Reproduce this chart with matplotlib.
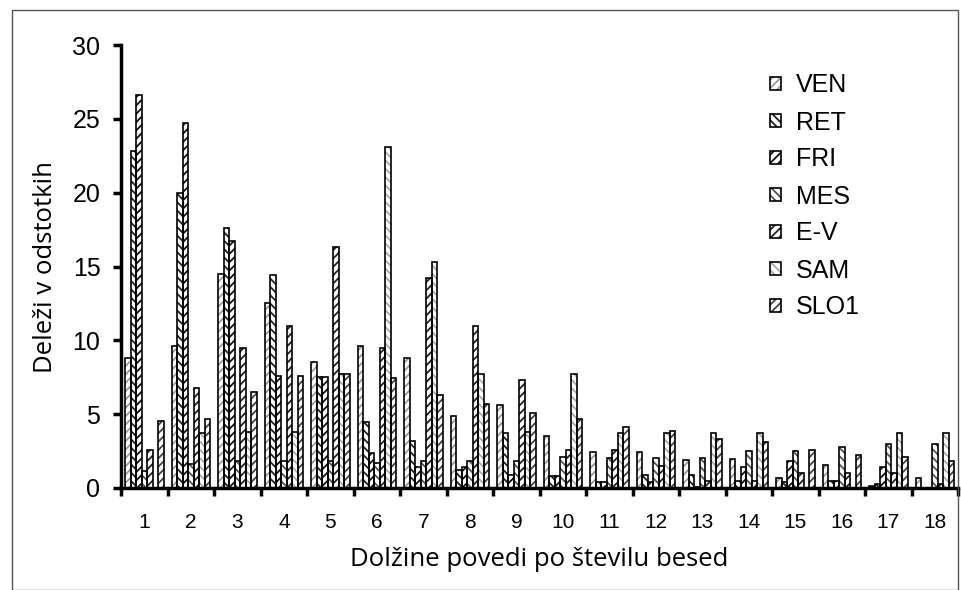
import numpy as np
import matplotlib.pyplot as plt
from matplotlib.patches import Patch, Rectangle

# ── data ───────────────────────────────────────────────────────────────────────
categories = [str(i) for i in range(1, 19)]
series_names = ["VEN", "RET", "FRI", "MES", "E-V", "SAM", "SLO1"]

ven  = [8.8, 9.6, 14.5, 12.5, 8.5, 9.6, 8.8, 4.85, 5.65, 3.55, 2.45, 2.45, 1.9, 1.95, 0.7, 1.55, 0.15, 0.7]
ret  = [22.8, 19.95, 17.6, 14.4, 7.5, 4.5, 3.2, 1.25, 3.75, 0.8, 0.4, 0.9, 0.9, 0.5, 0.4, 0.5, 0.3, 0.0]
fri  = [26.6, 24.7, 16.7, 7.6, 7.55, 2.4, 1.4, 1.4, 0.9, 0.8, 0.4, 0.4, 0.1, 1.4, 1.8, 0.5, 1.4, 0.0]
mes  = [1.15, 1.6, 1.8, 1.85, 1.8, 1.7, 1.8, 1.85, 1.8, 2.1, 2.05, 2.05, 2.05, 2.5, 2.5, 2.8, 3.0, 3.0]
e_v  = [2.6, 6.8, 9.5, 11.0, 16.3, 9.45, 14.2, 11.0, 7.3, 2.6, 2.6, 1.5, 0.5, 0.5, 1.0, 1.0, 1.0, 0.3]
sam  = [0.0, 3.75, 3.8, 3.8, 7.7, 23.1, 15.3, 7.7, 3.8, 7.7, 3.7, 3.7, 3.7, 3.7, 0.0, 0.0, 3.7, 3.7]
slo1 = [4.55, 4.65, 6.5, 7.6, 7.7, 7.45, 6.3, 5.7, 5.1, 4.65, 4.1, 3.85, 3.3, 3.1, 2.6, 2.25, 2.1, 1.8]

series = [ven, ret, fri, mes, e_v, sam, slo1]

# ── style: hatch direction + hatch grey per series ─────────────────────────────
hatches = ["////", "\\\\\\\\", "////", "\\\\\\\\", "////", "\\\\\\\\", "////"]
hatch_cols = ["#9a9a9a", "#222222", "#111111", "#555555", "#222222", "#aaaaaa", "#444444"]

plt.rcParams["font.family"] = ["Liberation Sans", "DejaVu Sans"]
plt.rcParams["hatch.linewidth"] = 1.3
label_font = ["Open Sans", "DejaVu Sans"]

fig = plt.figure(figsize=(9.62, 5.90), dpi=100)
ax = fig.add_axes([0.126, 0.1729, 0.870, 0.7508])

x = np.arange(1, len(categories) + 1)
n = len(series)
w = 1.0 / (n + 1.5)

for j, vals in enumerate(series):
    pos = x + (j - (n - 1) / 2) * w
    # hatch layer (hatch takes edge colour), then a black outline on top
    ax.bar(pos, vals, width=w, facecolor="white", edgecolor=hatch_cols[j],
           hatch=hatches[j], linewidth=0, zorder=2)
    ax.bar(pos, vals, width=w, facecolor="none", edgecolor="black",
           linewidth=1.2, zorder=3)

ax.set_xlim(0.5, len(categories) + 0.5)
ax.set_ylim(0, 30)
ax.set_yticks(np.arange(0, 31, 5))

# boundary ticks (major, no label) + centred labels (minor, no tick mark)
ax.set_xticks(np.arange(0.5, len(categories) + 1, 1.0))
ax.set_xticklabels([])
ax.set_xticks(x, minor=True)
ax.set_xticklabels(categories, minor=True)
ax.tick_params(axis="x", which="major", direction="out", length=6, width=2.5)
ax.tick_params(axis="x", which="minor", length=0, pad=18, labelsize=15)
ax.tick_params(axis="y", direction="out", length=6, width=2.5, pad=9, labelsize=18)

for side in ("top", "right"):
    ax.spines[side].set_visible(False)
for side in ("left", "bottom"):
    ax.spines[side].set_linewidth(2.5)

ax.set_ylabel("Deleži v odstotkih", fontsize=18.5, family=label_font, labelpad=10)
ax.set_xlabel("Dolžine povedi po številu besed", fontsize=18.5, family=label_font,
              labelpad=11)

handles = [Patch(facecolor="white", edgecolor=hatch_cols[j], hatch=hatches[j],
                 linewidth=0) for j in range(n)]
outlines = [Patch(facecolor="none", edgecolor="black", linewidth=1.2) for _ in range(n)]
leg = fig.legend([(h, o) for h, o in zip(handles, outlines)], series_names,
                 loc="upper left", bbox_to_anchor=(752 / 962, 1 - 56 / 590),
                 frameon=False, fontsize=18, handlelength=0.45, handleheight=0.45,
                 handletextpad=0.6, labelspacing=0.52, borderpad=0.2)

# chart-area border like the original
fig.patches.append(Rectangle((12 / 962, 0.0), 946 / 962, 1 - 10 / 590,
                             transform=fig.transFigure, fill=False,
                             edgecolor="#555555", linewidth=1.0))

fig.savefig("out.png", dpi=100)
